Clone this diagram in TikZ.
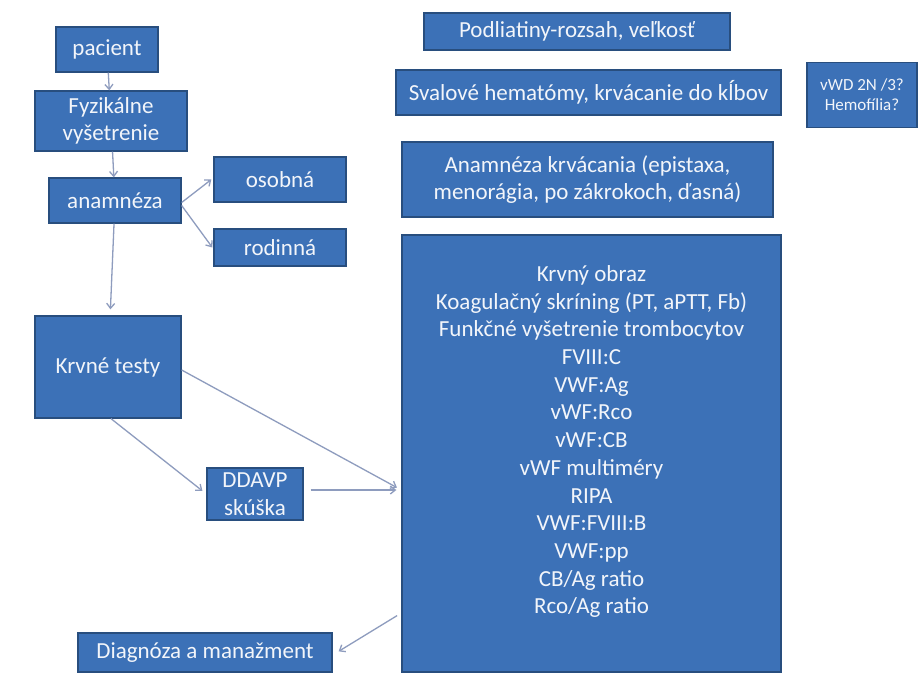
\documentclass[tikz,border=0pt]{standalone}
\usepackage{fontspec}
\setmainfont{Carlito}
\usetikzlibrary{arrows.meta}
\definecolor{boxfill}{HTML}{3C71B7}
\definecolor{boxline}{HTML}{284E7E}
\definecolor{txt}{HTML}{F2F5FA}
\definecolor{arr}{HTML}{8E9CBE}
\tikzset{
  bx/.style={draw=boxline, line width=1.3pt, fill=boxfill, text=txt, align=center,
    inner sep=0pt, font=\fontsize{23}{27.7}\selectfont},
  conn/.style={draw=arr, line width=1.3pt, -{Straight Barb[length=5pt,width=8pt]}},
}
\begin{document}
\begin{tikzpicture}[x=1pt,y=-1pt]
\useasboundingbox[fill=white] (0,0) rectangle (918,688);
\node[bx, minimum width=102pt, minimum height=45pt] (pac) at (107,49.5) {pacient};
\node[bx, minimum width=152pt, minimum height=60pt] (fyz) at (111,121) {Fyzikálne\\vyšetrenie};
\node[bx, minimum width=132pt, minimum height=45pt] (anam) at (115,200.5) {anamnéza};
\node[bx, minimum width=132pt, minimum height=45pt] (osob) at (280,179.5) {osobná};
\node[bx, minimum width=132pt, minimum height=37pt] (rod) at (280,247.5) {rodinná};
\node[bx, minimum width=146pt, minimum height=102pt] (krv) at (108,367) {Krvné testy};
\node[bx, minimum width=96pt, minimum height=52pt] (ddavp) at (255,494) {DDAVP\\skúška};
\node[bx, minimum width=254pt, minimum height=39pt] (diag) at (205,652.5) {Diagnóza a manažment};
\node[bx, minimum width=379pt, minimum height=437pt] (big) at (591.5,453.5) {Krvný obraz\\Koagulačný skríning (PT, aPTT, Fb)\\Funkčné vyšetrenie trombocytov\\FVIII:C\\VWF:Ag\\vWF:Rco\\vWF:CB\\vWF multiméry\\RIPA\\VWF:FVIII:B\\VWF:pp\\CB/Ag ratio\\Rco/Ag ratio\\\mbox{}};
\node[bx, minimum width=306pt, minimum height=37pt] (podl) at (577,31.5) {Podliatiny-rozsah, veľkosť};
\node[bx, minimum width=385pt, minimum height=45pt] (sval) at (588.5,92.5) {Svalové hematómy, krvácanie do kĺbov};
\node[bx, minimum width=110pt, minimum height=65pt, font=\fontsize{17}{20}\selectfont] (vwd) at (862,95) {vWD 2N /3?\\Hemofília?};
\node[bx, minimum width=371pt, minimum height=75pt] (anak) at (587.5,179.5) {Anamnéza krvácania (epistaxa,\\menorágia, po zákrokoch, ďasná)};
\coordinate (bigin) at ([yshift=-36.5pt]big.west);
\coordinate (bigout) at ([yshift=-159.5pt]big.west);
\draw[conn] (pac) -- (fyz);
\draw[conn] (fyz) -- (anam);
\draw[conn] ([yshift=-2pt]anam.east) -- ([xshift=-2pt]osob.west);
\draw[conn] ([yshift=-5pt]anam.east) -- ([xshift=-1pt]rod.west);
\draw[conn, shorten >=6pt] (anam) -- (krv);
\draw[conn, shorten >=5pt] ([xshift=3pt]krv.south) -- (ddavp.west);
\draw[conn, shorten >=5pt] ([yshift=-3pt]krv.east) -- (bigin);
\draw[conn, shorten <=7pt, shorten >=5pt] (ddavp.east |- bigin) -- (bigin);
\draw[conn, shorten <=5pt, shorten >=7pt] (bigout) -- ([yshift=-2.5pt]diag.east);
\end{tikzpicture}
\end{document}
